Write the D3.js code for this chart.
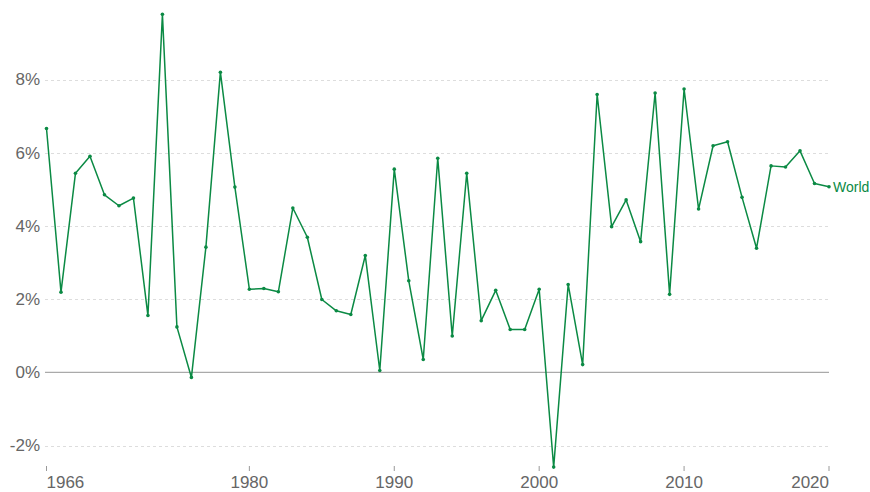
<!DOCTYPE html>
<html>
<head>
<meta charset="utf-8">
<script src="https://cdn.jsdelivr.net/npm/d3@7"></script>
<style>
  body { margin: 0; background: #fff; }
  text { font-family: "Liberation Sans", Arial, sans-serif; }
</style>
</head>
<body>
<div id="chart"></div>
<script>
// Data
var years = d3.range(1966, 2021);
var growth = [6.66, 2.19, 5.44, 5.90, 4.85, 4.55, 4.76, 1.55, 9.78, 1.24,
  -0.14, 3.42, 8.20, 5.06, 2.27, 2.29, 2.20, 4.49, 3.69, 1.99,
  1.68, 1.58, 3.19, 0.05, 5.55, 2.50, 0.35, 5.85, 0.99, 5.44,
  1.41, 2.24, 1.17, 1.17, 2.27, -2.59, 2.40, 0.21, 7.59, 3.98,
  4.71, 3.57, 7.63, 2.13, 7.74, 4.46, 6.19, 6.30, 4.78, 3.39,
  5.64, 5.61, 6.05, 5.16, 5.07];
var yTicks = [-2, 0, 2, 4, 6, 8];
var xTicks = [1966, 1980, 1990, 2000, 2010, 2020];
var seriesName = "World";

var svgWidth = 870;
var svgHeight = 492;
var green = "#0b8a44";

var svg = d3.select("#chart")
  .append("svg")
  .attr("width", svgWidth)
  .attr("height", svgHeight);

// Scales
var xScale = d3.scaleLinear()
  .domain([1966, 2020])
  .range([46.5, 829]);

var yScale = d3.scaleLinear()
  .domain([-2, 8])
  .range([445.5, 79.5]);

// Grid lines
svg.append("g")
  .selectAll("line")
  .data(yTicks.filter(d => d !== 0))
  .enter()
  .append("line")
  .attr("x1", 45)
  .attr("x2", 829)
  .attr("y1", d => Math.round(yScale(d)) + 0.5)
  .attr("y2", d => Math.round(yScale(d)) + 0.5)
  .attr("stroke", "#ddd")
  .attr("stroke-dasharray", "3,3");

// Zero line
svg.append("line")
  .attr("x1", 45)
  .attr("x2", 829)
  .attr("y1", yScale(0))
  .attr("y2", yScale(0))
  .attr("stroke", "#aaa")
  .attr("stroke-width", 1.2);

// Y labels
svg.append("g")
  .selectAll("text")
  .data(yTicks)
  .enter()
  .append("text")
  .attr("x", 40)
  .attr("y", d => yScale(d))
  .attr("dy", "0.35em")
  .attr("text-anchor", "end")
  .attr("font-size", 17)
  .attr("fill", "#666")
  .text(d => d + "%");

// X axis ticks
var xAxis = svg.append("g");
xAxis.selectAll("line")
  .data(xTicks)
  .enter()
  .append("line")
  .attr("x1", d => xScale(d))
  .attr("x2", d => xScale(d))
  .attr("y1", 466)
  .attr("y2", 471)
  .attr("stroke", "#999");

xAxis.selectAll("text")
  .data(xTicks)
  .enter()
  .append("text")
  .attr("x", d => xScale(d))
  .attr("y", 488)
  .attr("text-anchor", (d, i) => i === 0 ? "start" : (i === xTicks.length - 1 ? "end" : "middle"))
  .attr("font-size", 17)
  .attr("fill", "#666")
  .text(d => d);

// Line
var data = years.map((y, i) => ({ year: y, value: growth[i] }));

var line = d3.line()
  .x(d => xScale(d.year))
  .y(d => yScale(d.value));

svg.append("path")
  .datum(data)
  .attr("fill", "none")
  .attr("stroke", green)
  .attr("stroke-width", 1.5)
  .attr("stroke-linejoin", "round")
  .attr("d", line);

svg.append("g")
  .selectAll("circle")
  .data(data)
  .enter()
  .append("circle")
  .attr("cx", d => xScale(d.year))
  .attr("cy", d => yScale(d.value))
  .attr("r", 1.8)
  .attr("fill", green);

// Series label
var last = data[data.length - 1];
svg.append("text")
  .attr("x", xScale(last.year) + 4)
  .attr("y", yScale(last.value))
  .attr("dy", "0.35em")
  .attr("font-size", 14)
  .attr("fill", green)
  .text(seriesName);
</script>
</body>
</html>
